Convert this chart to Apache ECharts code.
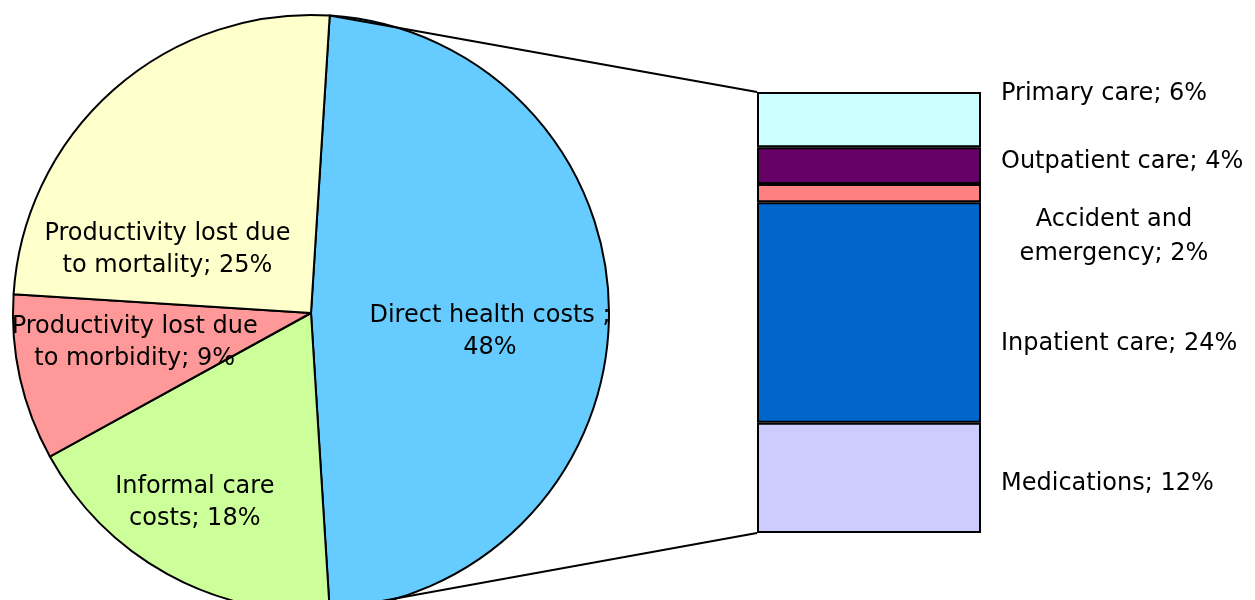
<!DOCTYPE html>
<html><head><meta charset="utf-8">
<script src="https://cdn.jsdelivr.net/npm/echarts@6/dist/echarts.min.js"></script>
<style>html,body{margin:0;padding:0;background:#fff}#c{width:1255px;height:600px}</style>
</head><body><div id="c"></div>
<script>
// ---- data ----
const pieNames = ['Direct health costs ', 'Informal care\ncosts', 'Productivity lost due\nto morbidity', 'Productivity lost due\nto mortality'];
const pieValues = [48, 18, 9, 25];
const barCategory = ['Direct health costs'];
const barNames = ['Primary care', 'Outpatient care', 'Accident and\nemergency', 'Inpatient care', 'Medications'];
const barValues = [6, 4, 2, 24, 12];

// ---- style ----
const pieColors = ['#66CCFF', '#CCFF99', '#FF9999', '#FFFFCC'];
const barColors = ['#CCFFFF', '#660066', '#FF8080', '#0066CC', '#CCCCFF'];
const pieLabelShift = [[27, 19], [-43, 57], [-28, -3], [-43, 51]];
const barLabelShift = [[20, -25.5, 'left'], [20, -3.5, 'left'], [133, 44, 'center'], [20, 31.5, 'left'], [20, 6, 'left']];
const FONT = 'DejaVu Sans';
const FS = 24;
const CX = 311, CY = 313, R = 298;
const GRID = {left: 757, top: 92, width: 224, height: 441};
const LW = 2;

const pieTotal = pieValues.reduce((a, b) => a + b, 0);
const barTotal = barValues.reduce((a, b) => a + b, 0);
const half = pieValues[0] / pieTotal * 180;

const chart = echarts.init(document.getElementById('c'), null, {renderer: 'canvas'});

const series = [{
  type: 'pie',
  center: [CX, CY],
  radius: [0, R],
  startAngle: half,
  clockwise: true,
  avoidLabelOverlap: false,
  silent: true,
  animation: false,
  data: pieNames.map((n, i) => ({name: n, value: pieValues[i], itemStyle: {color: pieColors[i]}})),
  itemStyle: {borderColor: '#000', borderWidth: LW},
  label: {
    show: true,
    position: 'inside',
    color: '#000',
    fontFamily: FONT,
    fontSize: FS,
    lineHeight: 32,
    textBorderWidth: 0,
    formatter: p => p.name.indexOf('\n') >= 0 ? p.name + '; ' + p.value + '%' : p.name + ';\n' + p.value + '%'
  },
  labelLine: {show: false},
  labelLayout: p => ({dx: pieLabelShift[p.dataIndex][0], dy: pieLabelShift[p.dataIndex][1]}),
  emphasis: {disabled: true}
}];

barNames.forEach((n, i) => {
  series.push({
    type: 'bar',
    name: n,
    stack: 'detail',
    xAxisIndex: 0,
    yAxisIndex: 0,
    barWidth: '100%',
    silent: true,
    animation: false,
    data: [barValues[i]],
    itemStyle: {color: barColors[i], borderColor: '#000', borderWidth: LW},
    label: {
      show: true,
      position: 'right',
      distance: barLabelShift[i][0],
      offset: [0, barLabelShift[i][1]],
      align: barLabelShift[i][2],
      color: '#000',
      fontFamily: FONT,
      fontSize: FS,
      lineHeight: 34,
      formatter: p => p.seriesName + '; ' + p.value + '%'
    },
    emphasis: {disabled: true}
  });
});

// connector lines: from the split points of the pie to the ends of the stacked bar (grid extent = 0..total)
const a = half * Math.PI / 180;
const topPie = [CX + R * Math.cos(a), CY - R * Math.sin(a)];
const botPie = [CX + R * Math.cos(a), CY + R * Math.sin(a)];

chart.setOption({
  backgroundColor: '#fff',
  animation: false,
  grid: {left: GRID.left, top: GRID.top, width: GRID.width, height: GRID.height, containLabel: false},
  xAxis: {type: 'category', data: barCategory, show: false},
  yAxis: {type: 'value', min: 0, max: barTotal, inverse: true, show: false},
  series: series,
  graphic: [
    {type: 'line', silent: true, z: 10, shape: {x1: topPie[0], y1: topPie[1], x2: GRID.left, y2: GRID.top}, style: {stroke: '#000', lineWidth: LW}},
    {type: 'line', silent: true, z: 10, shape: {x1: botPie[0], y1: botPie[1], x2: GRID.left, y2: GRID.top + GRID.height}, style: {stroke: '#000', lineWidth: LW}}
  ]
});
</script>
</body></html>
